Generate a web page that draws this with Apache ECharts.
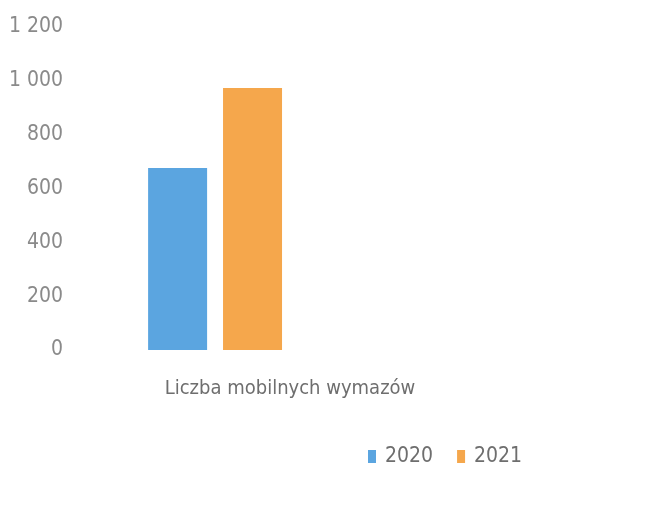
<!DOCTYPE html>
<html><head><meta charset="utf-8">
<script src="https://cdn.jsdelivr.net/npm/echarts@6/dist/echarts.min.js"></script>
<style>html,body{margin:0;padding:0;background:#fff}#c{width:672px;height:517px}</style>
</head><body><div id="c"></div>
<script>
const categories = ['Liczba mobilnych wymazów'];
const seriesNames = ['2020', '2021'];
const values2020 = [676];
const values2021 = [973];
const emptySeriesA = [null];
const emptySeriesB = [null];
const yTicks = [0, 200, 400, 600, 800, 1000, 1200];

const FONT = "'Liberation Sans Narrow', 'DejaVu Sans Condensed', 'Liberation Sans', sans-serif";
const chart = echarts.init(document.getElementById('c'));
chart.setOption({
  animation: false,
  backgroundColor: '#fff',
  grid: { left: 72, right: 164, top: 27, bottom: 167 },
  legend: {
    data: seriesNames,
    left: 368, top: 446, padding: 0,
    itemWidth: 8, itemHeight: 13, itemGap: 24,
    icon: 'rect',
    textStyle: { color: '#6e6e6e', fontSize: 21, fontFamily: FONT, padding: [0, 0, 0, 4] }
  },
  xAxis: {
    type: 'category', data: categories,
    axisLine: { show: false }, axisTick: { show: false },
    axisLabel: { color: '#6e6e6e', fontSize: 20, fontFamily: FONT, margin: 29 }
  },
  yAxis: {
    type: 'value', min: yTicks[0], max: yTicks[yTicks.length-1], interval: 200,
    splitLine: { show: false }, axisLine: { show: false }, axisTick: { show: false },
    axisLabel: {
      color: '#8a8a8a', fontSize: 21, fontFamily: FONT, margin: 9,
      formatter: v => String(v).replace(/\B(?=(\d{3})+(?!\d))/g, ' ')
    }
  },
  series: [
    { name: '2020', type: 'bar', data: values2020, barWidth: 59, barGap: '27%', itemStyle: { color: '#5ba5e0' } },
    { name: '2021', type: 'bar', data: values2021, barWidth: 59, itemStyle: { color: '#f5a74c' } },
    { name: 'empty1', type: 'bar', data: emptySeriesA, barWidth: 59 },
    { name: 'empty2', type: 'bar', data: emptySeriesB, barWidth: 59 }
  ]
});
</script></body></html>
